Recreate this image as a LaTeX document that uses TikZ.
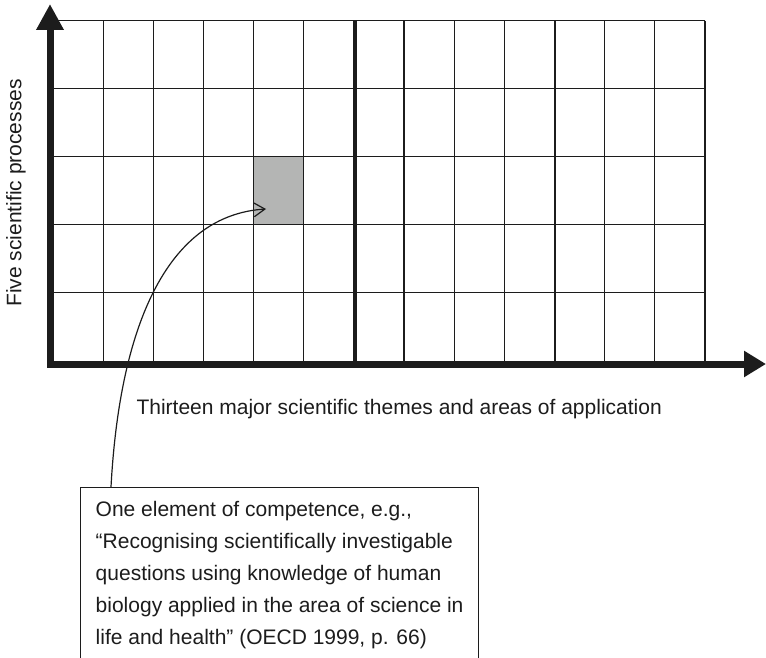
\documentclass[tikz,border=0pt]{standalone}
\usepackage{fontspec}
\setmainfont{Liberation Sans}
\usetikzlibrary{arrows.meta}

\definecolor{bunka}{RGB}{180,181,180}
\definecolor{inkoust}{RGB}{28,28,28}

\begin{document}
\begin{tikzpicture}[x=1pt,y=-1pt,
    mrizka/.style={line width=1.2pt,draw=inkoust},
    predel/.style={line width=2pt,draw=inkoust},
    osa/.style={line width=7pt,draw=inkoust,line join=miter,
      {Triangle[length=26pt,width=26pt]}-{Triangle[length=22pt,width=25pt]}},
    popis/.style={font=\fontsize{21}{32}\selectfont,text=inkoust},
    sipka/.style={line width=1.2pt,draw=inkoust,-{Straight Barb[length=11pt,width=14pt]}},
  ]
  \useasboundingbox (0,0) rectangle (766,658);

  % vybraná buňka
  \fill[bunka] (253.6,156.5) rectangle (303.75,224.3);

  % mřížka
  \foreach \i in {0,...,13}
    \draw[mrizka] (53+50.15*\i,20.7) -- (53+50.15*\i,362);
  \foreach \j in {0,...,4}
    \draw[mrizka] (53,20.7+67.86*\j) -- (705,20.7+67.86*\j);
  \draw[predel] (355.9,20.7) -- (355.9,362);
  \draw[predel] (554.5,20.7) -- (554.5,362);

  % osy
  \draw[osa] (50,4) -- (50,364) -- (766,364);
  \node[popis,rotate=90] (procesy) at (16,193) {Five scientific processes};
  \node[popis,anchor=base west] (temata) at (133,414)
    {Thirteen major scientific themes and areas of application};

  % rámeček s příkladem
  \node[popis,draw=inkoust,line width=1.2pt,anchor=north west,align=left,
    minimum width=398pt,minimum height=171pt] (prvek) at (80,487)
    {\rule{0pt}{18.5pt}One element of competence, e.g.,\\
     “Recognising scientifically investigable\\
     questions using knowledge of human\\
     biology applied in the area of science in\\
     life and health” (OECD 1999, p. 66)};

  % šipka do buňky
  \coordinate (cil) at (266,209);
  \draw[sipka] ([xshift=31pt]prvek.north west) .. controls (120,320) and (170,215) .. (cil);
\end{tikzpicture}
\end{document}
